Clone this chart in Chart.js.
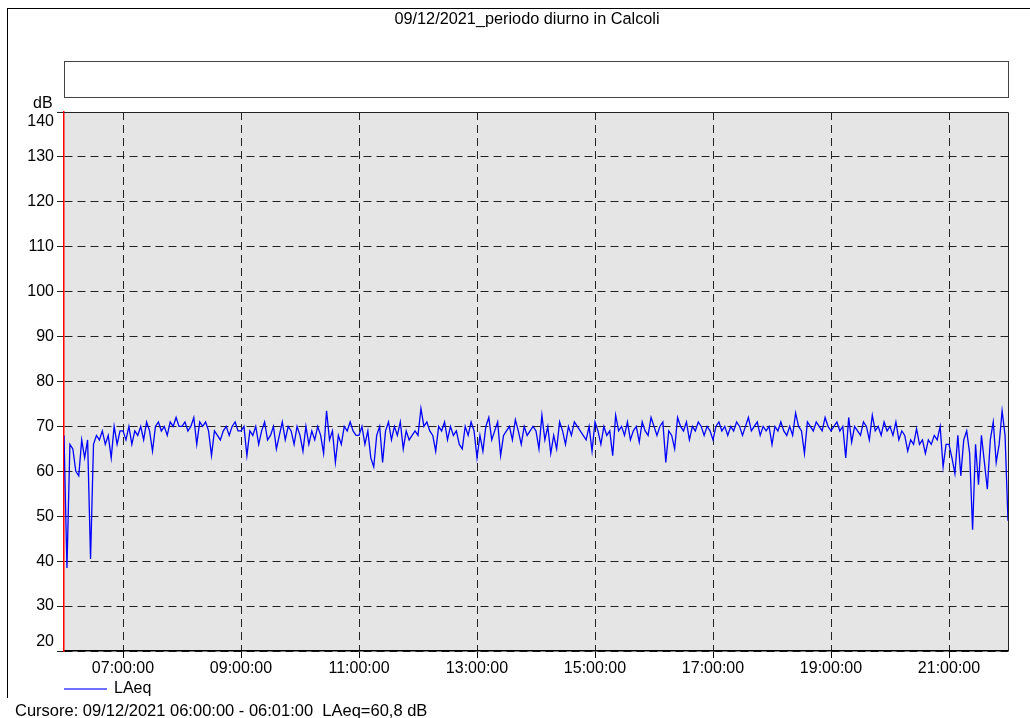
<!DOCTYPE html>
<html>
<head>
<meta charset="utf-8">
<script src="https://cdn.jsdelivr.net/npm/chart.js@4.4.1/dist/chart.umd.min.js"></script>
<style>
    body{margin:0;background:#fff;font-family:"Liberation Sans",Arial,sans-serif;}
    #wrap{position:relative;width:1030px;height:718px;overflow:hidden;}
    #wrap canvas{position:absolute;left:0;top:0;}
    .txt{position:absolute;font-size:16px;line-height:16px;color:#000;white-space:pre;}
</style>
</head>
<body>
<div id="wrap">
    <canvas id="laeqChart" width="1030" height="718"></canvas>
    <div style="position:absolute;left:7px;top:8px;width:1023px;height:0;border-top:1px solid #000"></div>
    <div style="position:absolute;left:7px;top:8px;width:0;height:690px;border-left:1px solid #000"></div>
    <div class="txt" id="chartTitle" style="left:0;width:1054px;text-align:center;top:10px;font-size:16.3px"></div>
    <div style="position:absolute;left:64px;top:61px;width:943px;height:35px;border:1px solid #444"></div>
    <div class="txt" style="left:33px;top:95px">dB</div>
    <div style="position:absolute;left:64px;top:688px;width:43px;height:1.5px;background:#7070ff"></div>
    <div class="txt" id="legendLabel" style="left:114px;top:680px"></div>
    <div class="txt" id="cursorText" style="left:15px;top:702px;font-size:16.5px"></div>
</div>
<script>
const title = '09/12/2021_periodo diurno in Calcoli'
const seriesName = 'LAeq'
const cursorLine = 'Cursore: 09/12/2021 06:00:00 - 06:01:00  LAeq=60,8 dB'

// one value every 3 minutes starting at 06:00, one row per hour
const stepMinutes = 3
const laeq = [
    68, 38.5, 66, 65, 60, 59, 67, 63, 67, 40.5, 66, 68, 67, 69, 66, 68, 63, 70, 66, 69,
    69, 67, 70, 66, 69, 68, 70, 67, 71, 69, 64.5, 70, 71, 69, 70, 68, 71, 70, 72, 70,
    70, 71, 69, 70, 72, 66, 71, 70, 71, 69, 63.5, 69, 68, 67, 69, 70, 68, 70, 71, 69,
    69, 70, 63.5, 69, 68, 70, 66, 69, 71, 67, 68, 70, 65, 68, 71, 67, 70, 69, 66, 70,
    68, 64.5, 70, 66, 69, 67, 70, 68, 64, 73.5, 67, 69, 62, 68, 66, 70, 69, 71, 69, 68,
    68, 70, 66, 69, 63, 61, 68, 70, 62, 69, 71, 67, 70, 68, 71, 65, 69, 67, 68, 69,
    68, 74, 70, 71, 69, 68, 64.5, 70, 69, 71, 67, 70, 68, 69, 66, 65, 70, 68, 71, 69,
    63, 68, 64.5, 70, 72, 67, 69, 71, 63.5, 68, 69, 70, 67, 71.5, 69, 66, 70, 68, 69, 70,
    69, 65, 72.5, 67, 70, 64, 68, 65, 71, 69, 66, 70, 68, 71, 70, 69, 68, 67, 70, 64.5,
    71, 69, 66, 70, 68, 69, 63.5, 72.5, 69, 70, 68, 71, 67, 69, 70, 66.5, 71, 69, 68, 72,
    70, 68, 70, 71, 62, 69, 68, 65, 72, 70, 69, 71, 67, 70, 69, 71, 70, 68, 70, 69,
    67, 70, 71, 69, 70, 68, 70, 69, 71, 70, 68, 70, 72, 69, 70, 71, 68, 70, 69, 70,
    66, 70, 69, 71, 69, 68, 70, 68, 73, 70, 69, 64, 71, 70, 69, 71, 70, 69, 72, 70,
    69, 70, 71, 69, 70, 63, 72, 66.5, 70, 69, 68, 71, 70, 67, 72.5, 69, 70, 68, 71, 69,
    70, 68, 71, 67, 69, 68, 64.5, 67, 66, 69.5, 66, 67, 64, 67, 66, 68, 67, 70, 61, 66,
    66, 63, 59.5, 68, 59, 67, 69, 64, 47, 66, 57, 68, 62, 56, 67, 71, 62, 66, 73.5, 68,
    49
]

const startHour = 6
const endHour = 22
const tickHours = [7, 9, 11, 13, 15, 17, 19, 21]
const yMin = 20
const yMax = 140
const yStep = 10

document.getElementById('chartTitle').textContent = title
document.getElementById('legendLabel').textContent = seriesName
document.getElementById('cursorText').textContent = cursorLine

const points = laeq.map((v, i) => ({x: i * stepMinutes, y: v}))

function hourLabel(minutes){
    const h = startHour + Math.round(minutes / 60)
    return `${String(h).padStart(2, '0')}:00:00`
}

// top / bottom labels are pushed inside the plot, like the original software does
function dbLabel(value){
    if(value === yMax) return ['', String(value)]
    if(value === yMin) return [String(value), '']
    return String(value)
}

const plotFrame = {
    id: 'plotFrame',
    beforeDraw(chart){
        const {ctx, chartArea: a} = chart
        ctx.save()
        ctx.fillStyle = '#e5e5e5'
        ctx.fillRect(a.left, a.top, a.right - a.left, a.bottom - a.top)
        ctx.restore()
    },
    afterDraw(chart){
        const {ctx, chartArea: a} = chart
        ctx.save()
        ctx.strokeStyle = '#222'
        ctx.lineWidth = 1
        ctx.beginPath()
        ctx.moveTo(a.left, a.top + 0.5)
        ctx.lineTo(a.right + 0.5, a.top + 0.5)
        ctx.lineTo(a.right + 0.5, a.bottom)
        ctx.stroke()
        ctx.restore()
    }
}

const tickFont = {family: '"Liberation Sans", Arial, sans-serif', size: 16, lineHeight: 1.15}

new Chart(document.getElementById('laeqChart').getContext('2d'), {
    type: 'line',
    data: {
        datasets: [{
            label: seriesName,
            data: points,
            borderColor: '#0000ff',
            borderWidth: 1.3,
            pointRadius: 0,
            tension: 0,
            fill: false
        }]
    },
    options: {
        responsive: false,
        animation: false,
        devicePixelRatio: 1,
        layout: {padding: {top: 112, left: 0, right: 22, bottom: 0}},
        plugins: {
            legend: {display: false},
            title: {display: false},
            tooltip: {enabled: false}
        },
        scales: {
            x: {
                type: 'linear',
                min: 0,
                max: (endHour - startHour) * 60,
                afterBuildTicks: scale => {
                    scale.ticks = tickHours.map(h => ({value: (h - startHour) * 60}))
                },
                afterFit: scale => { scale.height = 67 },
                ticks: {
                    autoSkip: false,
                    maxRotation: 0,
                    padding: 1,
                    color: '#000',
                    font: tickFont,
                    callback: value => hourLabel(value)
                },
                grid: {
                    color: '#222',
                    lineWidth: 1,
                    drawTicks: true,
                    tickLength: 7,
                    tickColor: '#000',
                    tickBorderDash: []
                },
                border: {color: '#000', width: 1.5, dash: [8, 5]}
            },
            y: {
                min: yMin,
                max: yMax,
                afterFit: scale => { scale.width = 64 },
                ticks: {
                    stepSize: yStep,
                    padding: 3,
                    color: '#000',
                    font: tickFont,
                    callback: value => dbLabel(value)
                },
                grid: {
                    color: '#222',
                    lineWidth: 1,
                    drawTicks: true,
                    tickLength: 7,
                    tickColor: '#222',
                    tickBorderDash: []
                },
                border: {color: '#ff0000', width: 1.5, dash: [8, 5]}
            }
        }
    },
    plugins: [plotFrame]
})
</script>
</body>
</html>
